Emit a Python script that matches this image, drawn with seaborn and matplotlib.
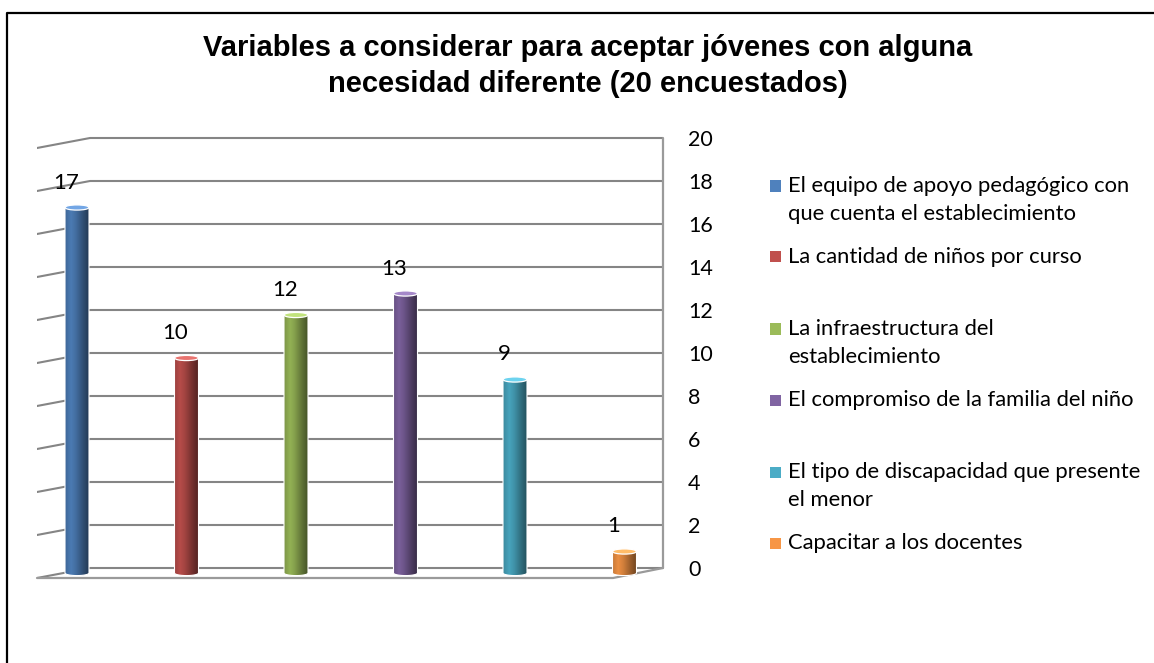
import numpy as np
import matplotlib
matplotlib.use('Agg')
import matplotlib.pyplot as plt
import matplotlib.colors as mcolors
from matplotlib.patches import Rectangle, Ellipse, PathPatch
from matplotlib.path import Path
from matplotlib.lines import Line2D
import pandas as pd
import seaborn as sns

sns.set_theme(style='white')
plt.rcParams['font.family'] = ['Lato', 'DejaVu Sans']
plt.rcParams['text.color'] = 'black'
plt.rcParams['ytick.color'] = 'black'

# data
categorias = ['El equipo de apoyo pedagógico con\nque cuenta el establecimiento',
              'La cantidad de niños por curso',
              'La infraestructura del\nestablecimiento',
              'El compromiso de la familia del niño',
              'El tipo de discapacidad que presente\nel menor',
              'Capacitar a los docentes']
valores = [17, 10, 12, 13, 9, 1]
colores = ['#4F81BD', '#C0504D', '#9BBB59', '#8064A2', '#4BACC6', '#F79646']
ticks = list(range(0, 21, 2))
titulo = 'Variables a considerar para aceptar jóvenes con alguna\nnecesidad diferente (20 encuestados)'

W, H = 1154, 663
fig = plt.figure(figsize=(W / 100, H / 100), dpi=100)

# pixel geometry of the pseudo-3D plot area
px_unit = 21.5          # pixels per value unit
base_px = 573           # bar bottoms
x0_px, step_px = 77, 109.5
left_px, right_px = 37, 663
bot_px, top_px = 585, 125

ax = fig.add_axes([left_px / W, 1 - bot_px / H,
                   (right_px - left_px) / W, (bot_px - top_px) / H])

df = pd.DataFrame({'cat': categorias, 'val': valores})
bw = 24 / step_px
sns.barplot(data=df, x='cat', y='val', hue='cat', palette=colores,
            width=bw, legend=False, ax=ax, zorder=3)

xmin = (left_px - x0_px) / step_px
xmax = (right_px - x0_px) / step_px
ymin = (base_px - bot_px) / px_unit
ymax = (base_px - top_px) / px_unit
depth = 5 / px_unit          # back wall offset
slant = 10 / px_unit         # left wall slant
wall_x = (90 - x0_px) / step_px

grid_c = '#858585'
for v in ticks:
    yb = v + depth
    ax.plot([wall_x, xmax], [yb, yb], color=grid_c, lw=1.5, zorder=1,
            solid_capstyle='butt')
    ax.plot([xmin, wall_x], [yb - slant, yb], color=grid_c, lw=1.5, zorder=1)
# floor front edge and right wall
front_x = (613 - x0_px) / step_px
ax.plot([xmin, front_x, xmax], [depth - slant, depth - slant, depth],
        color='#9a9a9a', lw=1.6, zorder=1, clip_on=False)
ax.plot([xmax, xmax], [depth, ticks[-1] + depth], color='#9a9a9a', lw=1.6,
        zorder=1, clip_on=False)

# cylinder shading
tpos = np.array([0.0, 0.25, 0.45, 0.75, 1.0])
tfac = np.array([0.80, 0.95, 0.85, 0.62, 0.45])
grad_t = np.linspace(0, 1, 64)
eb = 0.12
for patch, col in zip(ax.patches, colores):
    x0 = patch.get_x()
    w = patch.get_width()
    h = patch.get_height()
    patch.set_visible(False)
    rgb = np.array(mcolors.to_rgb(col))
    fac = np.interp(grad_t, tpos, tfac)
    img = np.clip(rgb[None, :] * fac[:, None], 0, 1)[None, :, :]
    # body path with rounded bottom
    th = np.linspace(np.pi, 2 * np.pi, 30)
    xc = x0 + w / 2
    verts = [(x0, h)] + [(xc + w / 2 * np.cos(t), eb * np.sin(t)) for t in th] + [(x0 + w, h), (x0, h)]
    body = PathPatch(Path(verts), facecolor='none', edgecolor='white', lw=0.8,
                     transform=ax.transData, zorder=3)
    ax.add_patch(body)
    im = ax.imshow(img, extent=[x0, x0 + w, -eb, h], aspect='auto',
                   interpolation='bilinear', zorder=2.9)
    im.set_clip_path(body)
    top_col = np.clip(rgb * 1.05 + 0.12, 0, 1)
    ax.add_patch(Ellipse((xc, h), w, 2 * eb, facecolor=top_col,
                         edgecolor='white', lw=0.9, zorder=4))
    ax.text(xc - 11 / step_px, h + 25 / px_unit, str(int(round(h))),
            ha='center', va='center', fontsize=16, color='black', zorder=5)

ax.set_xlim(xmin, xmax)
ax.set_ylim(ymin, ymax)
ax.set_xticks([])
ax.set_xlabel('')
ax.set_ylabel('')
ax.yaxis.tick_right()
ax.set_yticks([v + depth for v in ticks])
ax.set_yticklabels([str(v) for v in ticks], fontsize=15.5, color='black')
ax.tick_params(axis='y', length=0, pad=18)
for s in ax.spines.values():
    s.set_visible(False)
ax.set_facecolor('none')

# title
fig.text(588 / W, 1 - 66 / H, titulo, ha='center', va='center',
         fontsize=21, fontweight='bold', family='Liberation Sans',
         linespacing=1.35, color='black')

# legend
y_first = [186, 257, 329, 400, 472, 543]
for lab, col, yp in zip(categorias, colores, y_first):
    fig.patches.append(Rectangle((770 / W, 1 - (yp + 5.5) / H), 11 / W, 11 / H,
                                 transform=fig.transFigure, facecolor=col,
                                 edgecolor='none'))
    for k, line in enumerate(lab.split('\n')):
        fig.text(788 / W, 1 - (yp + 28 * k) / H, line, ha='left', va='center',
                 fontsize=15.8, color='black')

# outer frame (top and left only)
fig.add_artist(Line2D([7 / W, 7 / W, 1], [0, 1 - 13 / H, 1 - 13 / H],
                      transform=fig.transFigure, color='black', lw=1.6))

fig.savefig('out.png', dpi=100)
